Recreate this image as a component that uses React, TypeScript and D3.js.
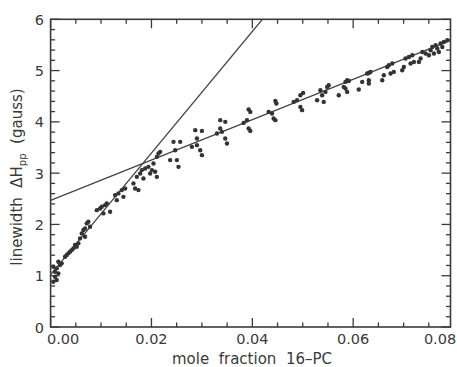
import React from "react";
import * as d3 from "d3";

// data points [mole fraction, linewidth (gauss)]
const lowX = [0.00054, 0.00087, 0.00121, 0.00153, 0.00087, 0.00121, 0.00054, 0.00187, 0.0022, 0.00153,
  0.00286, 0.00352, 0.00385, 0.00451, 0.00518, 0.0055, 0.00485, 0.00419, 0.0032,
  0.00584, 0.0065, 0.00683, 0.00717, 0.00749, 0.00618, 0.00783, 0.00683,
  0.00916, 0.00981, 0.01015, 0.0108, 0.01114, 0.01047, 0.0118,
  0.01279, 0.01345, 0.01412, 0.01478, 0.01313, 0.01444,
  0.01643, 0.01676, 0.0171, 0.01776, 0.01809, 0.01875, 0.01742, 0.01841,
  0.0194, 0.02008, 0.0204, 0.02073, 0.02107, 0.02139, 0.02173, 0.01974, 0.02107];
const lowY = [1.175, 1.077, 1.144, 1.046, 0.98, 0.916, 0.883, 1.208, 1.241, 1.272,
  1.37, 1.436, 1.467, 1.533, 1.564, 1.631, 1.598, 1.5, 1.403,
  1.728, 1.89, 1.923, 2.02, 2.051, 1.825, 1.954, 1.759,
  2.279, 2.312, 2.344, 2.377, 2.41, 2.215, 2.246,
  2.572, 2.605, 2.669, 2.702, 2.474, 2.538,
  2.8, 2.702, 2.928, 2.994, 3.059, 3.092, 2.669, 2.897,
  3.123, 3.059, 3.189, 3.026, 3.318, 3.384, 3.415, 2.994, 2.928];
const midX = [0.02437, 0.0257, 0.02371, 0.02504, 0.02536, 0.02471,
  0.02868, 0.03001, 0.02802, 0.02902, 0.02967, 0.03001, 0.02902,
  0.03364, 0.03463, 0.03299, 0.03398, 0.03463, 0.03498, 0.03364,
  0.03927, 0.0396, 0.03827, 0.03895, 0.03927, 0.0396,
  0.04457, 0.04477, 0.04324, 0.04391, 0.04423, 0.04457,
  0.0482, 0.04888, 0.04953, 0.04987, 0.04953, 0.05007];
const midY = [3.61, 3.61, 3.254, 3.254, 3.123, 3.448,
  3.838, 3.824, 3.513, 3.546, 3.448, 3.351, 3.676,
  4.033, 4.0, 3.774, 3.805, 3.676, 3.579, 3.871,
  4.241, 4.194, 3.98, 4.033, 3.871, 3.824,
  4.409, 4.358, 4.194, 4.163, 4.066, 4.033,
  4.389, 4.422, 4.292, 4.228, 4.52, 4.565];
const highX = [0.05285, 0.05384, 0.05416, 0.0545, 0.05484, 0.05515, 0.0535,
  0.05714, 0.05813, 0.05847, 0.05881, 0.05913, 0.05881, 0.05847,
  0.06111, 0.06179, 0.06278, 0.0631, 0.06344, 0.0631, 0.0631,
  0.06576, 0.06608, 0.06675, 0.06707, 0.06775, 0.06741, 0.06806,
  0.06973, 0.07005, 0.07039, 0.07104, 0.07172, 0.07138, 0.07204,
  0.07303, 0.07337, 0.07371, 0.07436, 0.07502, 0.07535,
  0.07569, 0.07635, 0.07668, 0.077, 0.07734, 0.07799, 0.07867, 0.07768, 0.07602];
const highY = [4.422, 4.52, 4.389, 4.584, 4.682, 4.715, 4.617,
  4.52, 4.682, 4.779, 4.812, 4.798, 4.584, 4.65,
  4.631, 4.779, 4.943, 4.954, 4.974, 4.812, 4.748,
  4.812, 4.909, 5.071, 5.104, 5.137, 4.943, 4.974,
  5.007, 5.071, 5.235, 5.266, 5.299, 5.137, 5.168,
  5.168, 5.235, 5.363, 5.332, 5.299, 5.396,
  5.461, 5.494, 5.43, 5.363, 5.527, 5.558, 5.591, 5.461, 5.332];

// fitted lines [x, y] endpoints
const steepLine: [number, number][] = [[0, 1.02], [0.042, 6.0]];
const shallowLine: [number, number][] = [[0, 2.47], [0.0793, 5.59]];

const xMajor = [0, 0.02, 0.04, 0.06, 0.08];
const xLabels = ["0.00", "0.02", "0.04", "0.06", "0.08"];
const yMajor = [0, 1, 2, 3, 4, 5, 6];

const W = 457, H = 367;
const L = 50.6, R = 450.5, T = 19.3, B = 327;
const ink = "#3a3a3a";
const font = "'DejaVu Sans', sans-serif";

export default function App() {
  const x = d3.scaleLinear().domain([0, 0.0793]).range([L, R]);
  const y = d3.scaleLinear().domain([0, 6]).range([B, T]);
  const line = d3.line<[number, number]>().x(d => x(d[0])).y(d => y(d[1]));
  const pts: [number, number][] = [];
  [[lowX, lowY], [midX, midY], [highX, highY]].forEach(([xs, ys]) => xs.forEach((v, i) => pts.push([v, ys[i]])));
  const xMinor = d3.range(0, 0.0795, 0.005).filter(v => Math.abs(v / 0.02 - Math.round(v / 0.02)) > 1e-6);
  const yMinor = d3.range(0, 6.001, 0.2).filter(v => Math.abs(v - Math.round(v)) > 1e-6);
  const labelShift = (i: number) => (i === 0 ? 12.5 : i === xMajor.length - 1 ? -14 : 0);
  return (
    <svg width={W} height={H} style={{ position: "absolute", left: 0, top: 0, background: "#fff" }}>
      <defs>
        <clipPath id="plot"><rect x={L} y={T} width={R - L} height={B - T} /></clipPath>
      </defs>
      <rect x={0} y={0} width={W} height={H} fill="#fff" />
      {/* ticks */}
      <g stroke={ink} strokeWidth={1.3}>
        {xMajor.filter(v => x(v) <= R).map(v => (
          <g key={"xm" + v}>
            <line x1={x(v)} x2={x(v)} y1={B} y2={B - 9} />
            <line x1={x(v)} x2={x(v)} y1={T} y2={T + 9} />
          </g>
        ))}
        {xMinor.map(v => (
          <g key={"xn" + v}>
            <line x1={x(v)} x2={x(v)} y1={B} y2={B - 4.5} />
            <line x1={x(v)} x2={x(v)} y1={T} y2={T + 4.5} />
          </g>
        ))}
        {yMajor.map(v => (
          <g key={"ym" + v}>
            <line x1={L} x2={L + 9} y1={y(v)} y2={y(v)} />
            <line x1={R} x2={R - 9} y1={y(v)} y2={y(v)} />
          </g>
        ))}
        {yMinor.map(v => (
          <g key={"yn" + v}>
            <line x1={L} x2={L + 4.5} y1={y(v)} y2={y(v)} />
            <line x1={R} x2={R - 4.5} y1={y(v)} y2={y(v)} />
          </g>
        ))}
      </g>
      <rect x={L} y={T} width={R - L} height={B - T} fill="none" stroke={ink} strokeWidth={1.6} />
      {/* fitted lines */}
      <g clipPath="url(#plot)" fill="none" stroke="#444" strokeWidth={1.3}>
        <path d={line(steepLine) || ""} />
        <path d={line(shallowLine) || ""} />
      </g>
      {/* points */}
      <g fill="#333">
        {pts.map((p, i) => <circle key={i} cx={x(p[0])} cy={y(p[1])} r={2.2} />)}
      </g>
      {/* tick labels */}
      <g fill={ink} fontFamily={font} fontSize={14.5}>
        {xMajor.map((v, i) => (
          <text key={"xl" + v} x={x(v) + labelShift(i)} y={344} textAnchor="middle">{xLabels[i]}</text>
        ))}
        {yMajor.map(v => (
          <text key={"yl" + v} x={44} y={y(v) + 5.5} textAnchor="end">{v}</text>
        ))}
      </g>
      <text x={252} y={364} textAnchor="middle" fill={ink} fontFamily={font} fontSize={15} style={{ whiteSpace: "pre" }}>
        {"mole  fraction  16\u2013PC"}
      </text>
      <text transform="translate(22,177) rotate(-90)" textAnchor="middle" fill={ink} fontFamily={font} fontSize={15} style={{ whiteSpace: "pre" }}>
        {"linewidth  \u0394H"}<tspan fontSize={10} dy={4}>pp</tspan><tspan dy={-4}>{"  (gauss)"}</tspan>
      </text>
    </svg>
  );
}
